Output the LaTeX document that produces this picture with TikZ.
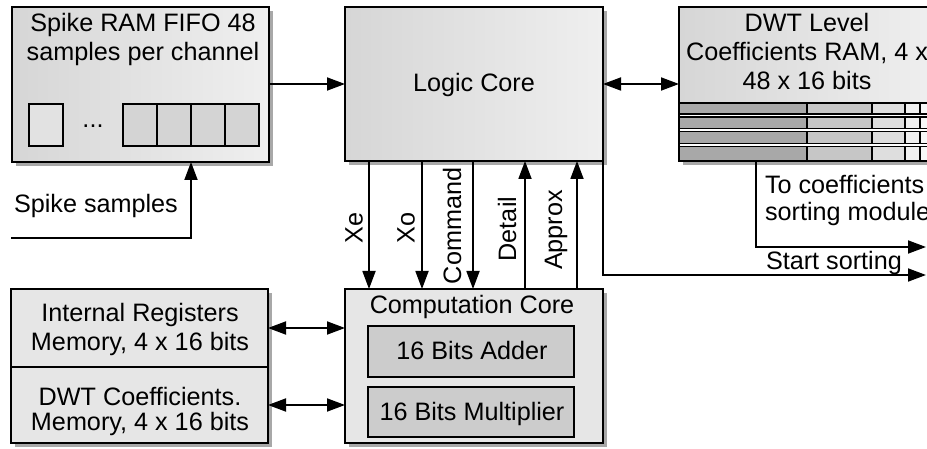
\documentclass[tikz,border=0pt]{standalone}
\usepackage{fontspec}
\setmainfont{Liberation Sans}
\usetikzlibrary{arrows.meta,calc,backgrounds}
\definecolor{shadowgray}{HTML}{A8A8A8}
\definecolor{boxL}{HTML}{D6D6D6}
\definecolor{boxR}{HTML}{EFEFEF}
\definecolor{memfill}{HTML}{E6E6E6}
\definecolor{unitfill}{HTML}{CCCCCC}
\definecolor{cellA}{HTML}{E2E2E2}
\definecolor{cellB}{HTML}{D4D4D4}
\definecolor{ramA}{HTML}{A8A8A8}
\definecolor{ramB}{HTML}{C6C6C6}
\definecolor{ramC}{HTML}{DEDEDE}
\definecolor{ramD}{HTML}{F0F0F0}
\definecolor{ramE}{HTML}{F8F8F8}
\begin{document}
\begin{tikzpicture}[x=1pt,y=-1pt,
  every node/.style={inner sep=0pt, outer sep=0pt},
  txt/.style={font=\fontsize{25.2}{29}\selectfont},
  box/.style={draw=black, line width=2pt, rectangle},
  cell/.style={draw=black, line width=1.6pt, rectangle, minimum width=34pt, minimum height=42pt},
  wire/.style={line width=1.8pt},
  tip/.tip={Triangle[length=18pt,width=13pt]},
  arr/.style={wire, -tip},
  darr/.style={wire, tip-tip},
  vlabel/.style={txt, rotate=90}
]
\useasboundingbox (0,0) rectangle (927,449);
\clip (0,0) rectangle (927,449);

% --- spike FIFO ---
\node[box, left color=boxL, right color=boxR,
      minimum width=257pt, minimum height=155pt] (spike) at (140.5,84.5) {};
\node[txt, anchor=base] (spikeT1) at (143,32) {Spike RAM FIFO 48};
\node[txt, anchor=base] (spikeT2) at (143,61) {samples per channel};
\node[cell, fill=cellA] (c0) at (46,125) {};
\node[txt, anchor=base] (dots) at (93,128) {...};
\foreach \i in {0,...,3}{
  \node[cell, fill=cellB] (s\i) at (140+34*\i,125) {};
}

% --- logic core ---
\node[box, left color=boxL, right color=boxR,
      minimum width=258pt, minimum height=154pt] (logic) at (474,84) {};
\node[txt, anchor=base] (logicT) at (474,91.5) {Logic Core};

% --- DWT level coefficients RAM ---
\node[box, left color=boxL, right color=boxR,
      minimum width=256pt, minimum height=154pt] (dwt) at (807,84) {};
\node[txt, anchor=base] (dwtT1) at (807,32) {DWT Level};
\node[txt, anchor=base] (dwtT2) at (807,61) {Coefficients RAM, 4 x};
\node[txt, anchor=base] (dwtT3) at (807,90) {48 x 16 bits};
\fill[white] (680,103) rectangle (934,160);
\foreach \t/\b in {103/114, 117/128.5, 131.5/143.5, 146.5/161}{
  \fill[ramA] (679,\t) rectangle (807,\b);
  \fill[ramB] (807,\t) rectangle (872,\b);
  \fill[ramC] (872,\t) rectangle (905,\b);
  \fill[ramD] (905,\t) rectangle (920,\b);
  \fill[ramE] (920,\t) rectangle (935,\b);
  \draw[line width=1.5pt] (679,\t) rectangle (935,\b);
  \foreach \x in {807,872,905,920}{
    \draw[line width=1.5pt] (\x,\t) -- (\x,\b);
  }
}
\draw[line width=2pt] (dwt.south west) rectangle (dwt.north east);

% --- memories ---
\node[box, fill=memfill,
      minimum width=257pt, minimum height=78pt] (regs) at (139.5,328) {};
\node[box, fill=memfill,
      minimum width=257pt, minimum height=76pt] (dwtmem) at (139.5,405) {};
\node[txt, anchor=base] (regsT1) at (140,322) {Internal Registers};
\node[txt, anchor=base] (regsT2) at (140,350.5) {Memory, 4 x 16 bits};
\node[txt, anchor=base] (memT1) at (140,405.5) {DWT Coefficients.};
\node[txt, anchor=base] (memT2) at (140,430) {Memory, 4 x 16 bits};

% --- computation core ---
\node[box, fill=memfill,
      minimum width=258pt, minimum height=154pt] (comp) at (474,366) {};
\node[txt, anchor=base] (compT) at (472,313) {Computation Core};
\node[box, fill=unitfill, minimum width=206pt, minimum height=51pt] (adder) at (471,351.5) {};
\node[txt, anchor=base] (adderT) at (472,359.5) {16 Bits Adder};
\node[box, fill=unitfill, minimum width=206pt, minimum height=50pt] (mult) at (471,412) {};
\node[txt, anchor=base] (multT) at (472,420) {16 Bits Multiplier};

% --- drop shadows behind the main blocks ---
\begin{pgfonlayer}{background}
  \foreach \n in {spike,logic,dwt,regs,dwtmem,comp}{
    \fill[shadowgray] ($(\n.south west)+(4,4)$) rectangle ($(\n.north east)+(4,4)$);
  }
\end{pgfonlayer}

% --- connectors ---
\draw[arr] (spike.east |- logic.west) -- (logic.west);
\draw[darr] (logic.east) -- (dwt.west);

\coordinate (ssin) at (11,238);
\coordinate (ssup) at ($(spike.south west)+(179,0)$);
\draw[arr] (ssin) -| (ssup);
\node[txt, anchor=base west] (ssT) at (14,213) {Spike samples};

\foreach \name/\dx in {xe/24, xo/77, cmd/128}{
  \coordinate (\name) at ($(logic.south west)+(\dx,0)$);
  \draw[arr] (\name) -- (\name |- comp.north);
}
\foreach \name/\dx in {det/180, apx/232}{
  \coordinate (\name) at ($(comp.north west)+(\dx,0)$);
  \draw[arr] (\name) -- (\name |- logic.south);
}
\node[vlabel] (xeT) at (354,228) {Xe};
\node[vlabel] (xoT) at (406,228) {Xo};
\node[vlabel] (cmdT) at (452,226) {Command};
\node[vlabel] (detT) at (507,229) {Detail};
\node[vlabel] (apxT) at (556,230) {Approx};

\coordinate (sortout) at (926,275);
\draw[arr] (logic.south east) |- (sortout);
\node[txt, anchor=base west] (sortT) at (766,270) {Start sorting};

\coordinate (coefdown) at ($(dwt.south west)+(77,0)$);
\coordinate (coefout) at (926,247);
\draw[arr] (coefdown) |- (coefout);
\node[txt, anchor=base west] (coefT1) at (765,194) {To coefficients};
\node[txt, anchor=base west] (coefT2) at (765,221) {sorting module};

\draw[darr] (regs.east) -- (regs.east -| comp.west);
\draw[darr] (dwtmem.east) -- (dwtmem.east -| comp.west);
\end{tikzpicture}
\end{document}
